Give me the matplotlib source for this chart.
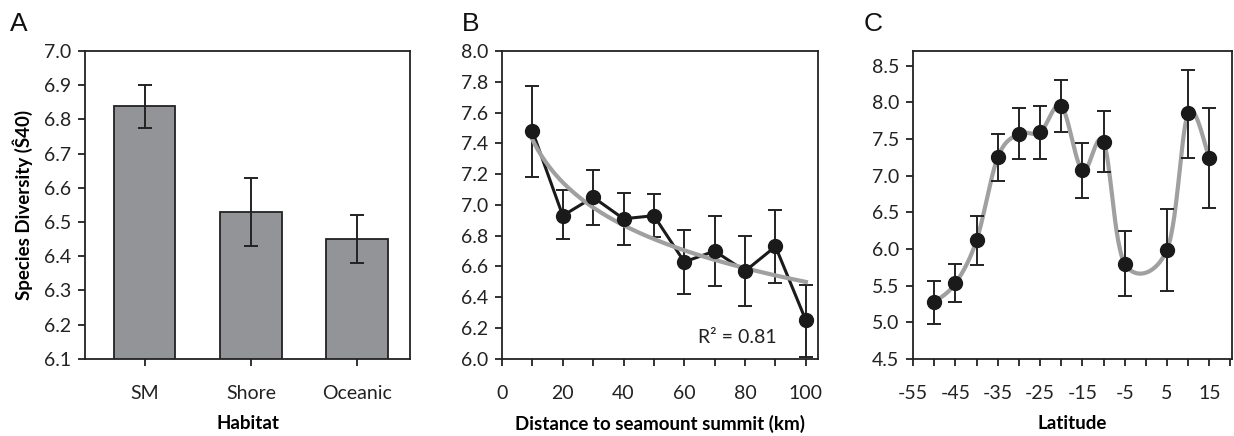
import matplotlib
matplotlib.use("Agg")
import matplotlib.pyplot as plt
import numpy as np

plt.rcParams['font.family'] = ['Lato', 'DejaVu Sans']
plt.rcParams['axes.unicode_minus'] = False

# panel A: diversity by habitat
habitats = ["SM", "Shore", "Oceanic"]
hab_mean = [6.84, 6.53, 6.45]
hab_lo = [6.775, 6.43, 6.38]
hab_hi = [6.90, 6.63, 6.52]

# panel B: distance to seamount summit
dist = [10, 20, 30, 40, 50, 60, 70, 80, 90, 100]
dist_mean = [7.48, 6.93, 7.05, 6.91, 6.93, 6.63, 6.70, 6.57, 6.73, 6.25]
dist_lo = [7.18, 6.78, 6.87, 6.74, 6.79, 6.42, 6.47, 6.34, 6.49, 6.01]
dist_hi = [7.77, 7.10, 7.23, 7.08, 7.07, 6.84, 6.93, 6.80, 6.97, 6.48]

# panel C: latitude
lat = [-50, -45, -40, -35, -30, -25, -20, -15, -10, -5, 5, 10, 15]
lat_mean = [5.27, 5.53, 6.12, 7.25, 7.57, 7.59, 7.95, 7.07, 7.46, 5.80, 5.99, 7.85, 7.24]
lat_lo = [4.98, 5.27, 5.78, 6.93, 7.22, 7.23, 7.59, 6.69, 7.05, 5.36, 5.43, 7.24, 6.56]
lat_hi = [5.56, 5.80, 6.45, 7.57, 7.92, 7.95, 8.30, 7.45, 7.88, 6.25, 6.55, 8.44, 7.92]

tick_fs = 14
lab_fs = 13.5


def yerr(mean, lo, hi):
    m = np.array(mean)
    return [m - np.array(lo), np.array(hi) - m]


def smooth(x, y, n=30):
    # Catmull-Rom curve, like the smoothed line in a spreadsheet chart
    p = np.column_stack([x, y]).astype(float)
    p = np.vstack([p[0], p, p[-1]])
    out = []
    t = np.linspace(0, 1, n)[:, None]
    for i in range(1, len(p) - 2):
        p0, p1, p2, p3 = p[i - 1], p[i], p[i + 1], p[i + 2]
        seg = 0.5 * ((2 * p1) + (-p0 + p2) * t + (2 * p0 - 5 * p1 + 4 * p2 - p3) * t ** 2
                     + (-p0 + 3 * p1 - 3 * p2 + p3) * t ** 3)
        out.append(seg)
    s = np.vstack(out)
    return s[:, 0], s[:, 1]


def style(ax):
    for sp in ax.spines.values():
        sp.set_linewidth(1.3)
        sp.set_color("#222222")
    ax.tick_params(direction="out", length=5, width=1.3, labelsize=tick_fs, colors="#222222", pad=5)
    ax.tick_params(axis="x", which="minor", direction="out", length=5, width=1.3, color="#222222")
    ax.tick_params(axis="x", pad=14)


fig = plt.figure(figsize=(12.34, 4.36), dpi=100)

# ---- A
axA = fig.add_axes([0.069, 0.177, 0.2634, 0.706])
xs = np.arange(len(habitats))
axA.bar(xs, hab_mean, width=0.58, bottom=0, color="#929497", edgecolor="#222222", linewidth=1.3)
axA.errorbar(xs, hab_mean, yerr=yerr(hab_mean, hab_lo, hab_hi), fmt="none",
             ecolor="#222222", elinewidth=1.4, capsize=5, capthick=1.4)
axA.set_xlim(-0.56, 2.5)
axA.set_ylim(6.1, 7.0)
axA.set_yticks(np.arange(6.1, 7.01, 0.1))
axA.set_yticklabels(["%.1f" % v for v in np.arange(6.1, 7.01, 0.1)])
axA.set_xticks(xs)
axA.set_xticklabels(habitats)
axA.set_xlabel("Habitat", fontsize=lab_fs, fontweight="bold", labelpad=9)
axA.set_ylabel("Species Diversity (Ŝ40)", fontsize=lab_fs, fontweight="bold", labelpad=8)
style(axA)

# ---- B
axB = fig.add_axes([0.4068, 0.177, 0.2561, 0.706])
lx = np.log(dist)
b, a = np.polyfit(lx, dist_mean, 1)
fx = np.linspace(dist[0], dist[-1], 200)
fy = a + b * np.log(fx)
axB.errorbar(dist, dist_mean, yerr=yerr(dist_mean, dist_lo, dist_hi), fmt="none",
             ecolor="#222222", elinewidth=1.4, capsize=5, capthick=1.4, zorder=2)
axB.plot(dist, dist_mean, color="#1a1a1a", lw=2.2, zorder=3)
axB.plot(fx, fy, color="#a0a0a0", lw=3, zorder=4)
axB.plot(dist, dist_mean, "o", color="#1a1a1a", ms=10, zorder=5)
axB.text(64.5, 6.1, "R² = 0.81", fontsize=14, color="#222222")
axB.set_xlim(0, 104)
axB.set_ylim(6.0, 8.0)
axB.set_yticks(np.arange(6.0, 8.01, 0.2))
axB.set_yticklabels(["%.1f" % v for v in np.arange(6.0, 8.01, 0.2)])
axB.set_xticks(np.arange(0, 101, 20))
axB.set_xticks(np.arange(10, 100, 20), minor=True)
style(axB)
axB.set_xlabel("Distance to seamount summit (km)", fontsize=lab_fs, fontweight="bold", labelpad=9)

# ---- C
axC = fig.add_axes([0.740, 0.177, 0.2585, 0.706])
sx, sy = smooth(lat, lat_mean)
axC.plot(sx, sy, color="#a0a0a0", lw=3, zorder=2)
axC.errorbar(lat, lat_mean, yerr=yerr(lat_mean, lat_lo, lat_hi), fmt="none",
             ecolor="#222222", elinewidth=1.4, capsize=5, capthick=1.4, zorder=3)
axC.plot(lat, lat_mean, "o", color="#1a1a1a", ms=10, zorder=5)
axC.set_xlim(-55, 20.4)
axC.set_ylim(4.5, 8.7)
axC.set_yticks(np.arange(4.5, 8.51, 0.5))
axC.set_yticklabels(["%.1f" % v for v in np.arange(4.5, 8.51, 0.5)])
axC.set_xticks(np.arange(-55, 16, 10))
axC.set_xticks(np.arange(-50, 21, 10), minor=True)
style(axC)
axC.set_xlabel("Latitude", fontsize=lab_fs, fontweight="bold", labelpad=9)

# panel letters
for x, letter in [(0.008, "A"), (0.374, "B"), (0.700, "C")]:
    fig.text(x, 0.93, letter, fontsize=19, family="Liberation Sans", color="#111111")

fig.savefig("out.png", dpi=100)
